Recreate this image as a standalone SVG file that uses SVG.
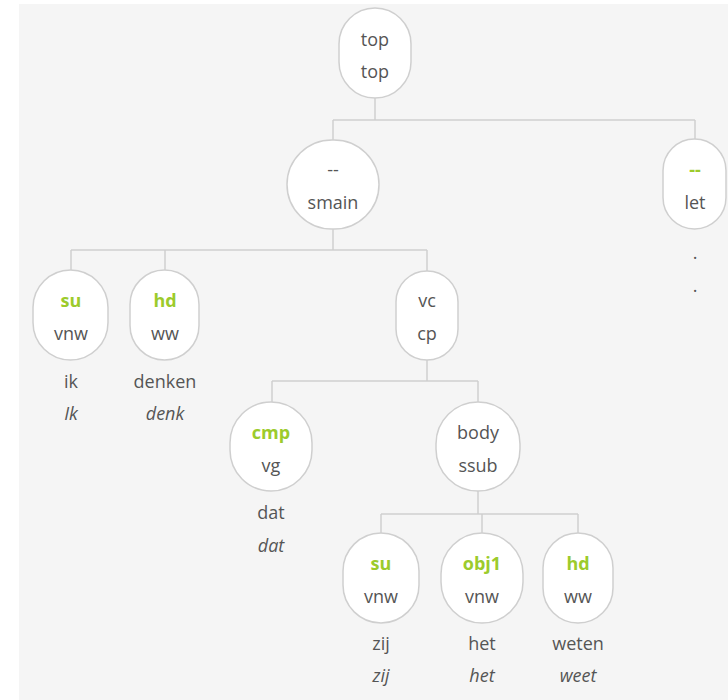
<svg xmlns="http://www.w3.org/2000/svg" width="728" height="700" viewBox="0 0 728 700">
<style>
.bg{fill:#f5f5f5}
.n{fill:#fff;stroke:#cfcfcf;stroke-width:1.5}
.e{fill:none;stroke:#cfcfcf;stroke-width:1.5}
text{font-family:"Open Sans","Noto Sans",sans-serif;font-size:18px;fill:#555;text-anchor:middle}
.g{fill:#9ccb2c;font-weight:bold}
.i{font-style:italic}
</style>
<rect class="bg" x="19" y="4" width="709" height="696"/>
<g id="connectors">
<path class="e" d="M375 98V120M333 120H695M333 120V140M695 120V139"/>
<path class="e" d="M333 229V250M71 250H427M71 250V270M165 250V270M427 250V271"/>
<path class="e" d="M427 360V381M272 381H478M272 381V402M478 381V402"/>
<path class="e" d="M478 491V514M381 514H578M381 514V533M482 514V533M578 514V533"/>
</g>
<g id="n-top"><rect class="n" x="339" y="8" width="72" height="90" rx="36"/><text x="375" y="46">top</text><text x="375" y="78">top</text></g>
<g id="n-smain"><rect class="n" x="287" y="140" width="92" height="89" rx="45"/><text x="333" y="176">--</text><text x="333" y="209">smain</text></g>
<g id="n-let"><rect class="n" x="663" y="139" width="63" height="90" rx="31.5"/><text class="g" x="695" y="176">--</text><text x="695" y="209">let</text><text x="695" y="259">.</text><text x="695" y="292">.</text></g>
<g id="n-su1"><rect class="n" x="33" y="270" width="75" height="90" rx="37.5"/><text class="g" x="71" y="307">su</text><text x="71" y="340">vnw</text><text x="71" y="388">ik</text><text class="i" x="71" y="420">Ik</text></g>
<g id="n-hd1"><rect class="n" x="130" y="270" width="69" height="90" rx="34.5"/><text class="g" x="165" y="307">hd</text><text x="165" y="340">ww</text><text x="165" y="388">denken</text><text class="i" x="165" y="420">denk</text></g>
<g id="n-vc"><rect class="n" x="396" y="271" width="62" height="89" rx="31"/><text x="427" y="307">vc</text><text x="427" y="340">cp</text></g>
<g id="n-cmp"><rect class="n" x="230" y="402" width="82" height="89" rx="41"/><text class="g" x="271" y="439">cmp</text><text x="271" y="472">vg</text><text x="271" y="519">dat</text><text class="i" x="271" y="552">dat</text></g>
<g id="n-body"><rect class="n" x="436" y="402" width="84" height="89" rx="42"/><text x="478" y="439">body</text><text x="478" y="472">ssub</text></g>
<g id="n-su2"><rect class="n" x="343" y="533" width="76" height="90" rx="38"/><text class="g" x="381" y="570">su</text><text x="381" y="603">vnw</text><text x="381" y="650">zij</text><text class="i" x="381" y="682">zij</text></g>
<g id="n-obj1"><rect class="n" x="441" y="533" width="82" height="90" rx="41"/><text class="g" x="482" y="570">obj1</text><text x="482" y="603">vnw</text><text x="482" y="650">het</text><text class="i" x="482" y="682">het</text></g>
<g id="n-hd2"><rect class="n" x="543" y="533" width="70" height="90" rx="35"/><text class="g" x="578" y="570">hd</text><text x="578" y="603">ww</text><text x="578" y="650">weten</text><text class="i" x="578" y="682">weet</text></g>
</svg>
